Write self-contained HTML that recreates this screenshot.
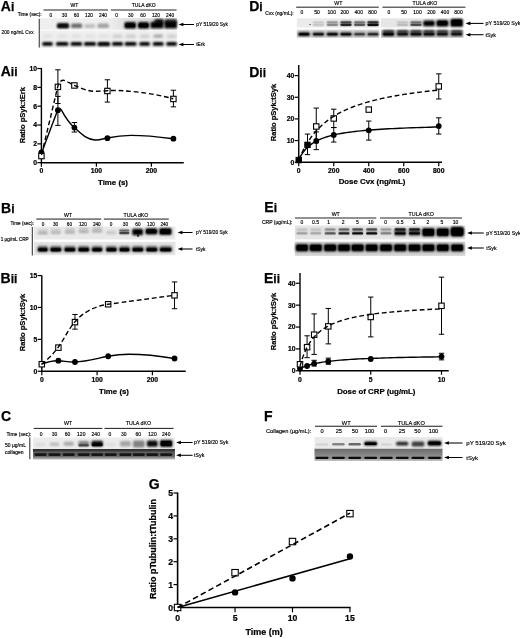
<!DOCTYPE html>
<html lang="en"><head><meta charset="utf-8"><title>Figure</title>
<style>html,body{margin:0;padding:0;background:#fff}svg{display:block}text{font-family:"Liberation Sans", Arial, sans-serif}</style></head><body>
<svg width="520" height="638" viewBox="0 0 520 638">
<defs><filter id="b1" x="-40%" y="-200%" width="180%" height="500%"><feGaussianBlur stdDeviation="1.0"/></filter><filter id="b2" x="-40%" y="-200%" width="180%" height="500%"><feGaussianBlur stdDeviation="1.5"/></filter><filter id="b0" x="-40%" y="-200%" width="180%" height="500%"><feGaussianBlur stdDeviation="0.65"/></filter><filter id="soft" x="-5%" y="-5%" width="110%" height="110%"><feGaussianBlur stdDeviation="0.35"/></filter><linearGradient id="gF" x1="0" y1="0" x2="0" y2="1"><stop offset="0" stop-color="#6a6a6a"/><stop offset="0.6" stop-color="#8c8c8c"/><stop offset="0.82" stop-color="#909090"/><stop offset="0.9" stop-color="#b8b8b8"/><stop offset="1" stop-color="#c4c4c4"/></linearGradient><linearGradient id="gC" x1="0" y1="0" x2="0" y2="1"><stop offset="0" stop-color="#2c2c2c"/><stop offset="0.18" stop-color="#3a3a3a"/><stop offset="0.3" stop-color="#5e5e5e"/><stop offset="0.7" stop-color="#666"/><stop offset="0.85" stop-color="#999"/><stop offset="1" stop-color="#b0b0b0"/></linearGradient><filter id="gsoft" x="0" y="0" width="520" height="638" filterUnits="userSpaceOnUse"><feGaussianBlur stdDeviation="0.32"/></filter><linearGradient id="gA" x1="0" y1="0" x2="1" y2="0"><stop offset="0" stop-color="#efefef"/><stop offset="0.25" stop-color="#e0e0e0"/><stop offset="1" stop-color="#d6d6d6"/></linearGradient></defs>
<rect width="520" height="638" fill="#fff"/>
<g filter="url(#gsoft)">
<g id="Ai">
<text x="0.8" y="11.2" font-size="14" font-weight="bold" fill="#000" stroke="#000" stroke-width="0.25">A<tspan font-size="12">i</tspan></text>
<text x="74.5" y="7.2" font-size="5" text-anchor="middle" stroke="#000" stroke-width="0.16" fill="#000">WT</text>
<line x1="43.5" y1="10" x2="108" y2="10" stroke="#111" stroke-width="0.95"/>
<text x="143.7" y="7.2" font-size="5" text-anchor="middle" stroke="#000" stroke-width="0.16" fill="#000">TULA dKO</text>
<line x1="110.8" y1="10" x2="176.5" y2="10" stroke="#111" stroke-width="0.95"/>
<text x="41.6" y="16.3" font-size="4.8" text-anchor="end" stroke="#000" stroke-width="0.16" fill="#000">Time (sec):</text>
<text x="50.9" y="16.8" font-size="4.8" text-anchor="middle" stroke="#000" stroke-width="0.16" fill="#000">0</text>
<text x="64.5" y="16.8" font-size="4.8" text-anchor="middle" stroke="#000" stroke-width="0.16" fill="#000">30</text>
<text x="76.4" y="16.8" font-size="4.8" text-anchor="middle" stroke="#000" stroke-width="0.16" fill="#000">60</text>
<text x="89.0" y="16.8" font-size="4.8" text-anchor="middle" stroke="#000" stroke-width="0.16" fill="#000">120</text>
<text x="103.0" y="16.8" font-size="4.8" text-anchor="middle" stroke="#000" stroke-width="0.16" fill="#000">240</text>
<text x="116.6" y="16.8" font-size="4.8" text-anchor="middle" stroke="#000" stroke-width="0.16" fill="#000">0</text>
<text x="130.7" y="16.8" font-size="4.8" text-anchor="middle" stroke="#000" stroke-width="0.16" fill="#000">30</text>
<text x="142.9" y="16.8" font-size="4.8" text-anchor="middle" stroke="#000" stroke-width="0.16" fill="#000">60</text>
<text x="155.9" y="16.8" font-size="4.8" text-anchor="middle" stroke="#000" stroke-width="0.16" fill="#000">120</text>
<text x="170.1" y="16.8" font-size="4.8" text-anchor="middle" stroke="#000" stroke-width="0.16" fill="#000">240</text>
<text x="1.5" y="33.5" font-size="4.8" text-anchor="start" stroke="#000" stroke-width="0.16" fill="#000">200 ng/mL Cvx</text>
<line x1="39.25" y1="18.75" x2="39.25" y2="47.5" stroke="#111" stroke-width="0.9"/>
<g filter="url(#soft)">
<rect x="40" y="18.2" width="137" height="11.5" fill="#efefef"/>
<rect x="108" y="18.2" width="69" height="11.5" fill="url(#gA)"/>
<rect x="40" y="30.6" width="137" height="17" fill="#efefef"/>
</g>
<rect x="57.00" y="23.10" width="12" height="5" rx="1.5" fill="#000" opacity="0.95" filter="url(#b1)"/>
<rect x="57.50" y="25.40" width="11" height="2.4" rx="1.2" fill="#000" opacity="0.8" filter="url(#b1)"/>
<rect x="71.10" y="23.55" width="11" height="4.5" rx="1.5" fill="#000" opacity="0.55" filter="url(#b1)"/>
<rect x="84.55" y="24.00" width="10.5" height="4" rx="1.5" fill="#000" opacity="0.2" filter="url(#b1)"/>
<rect x="97.45" y="23.55" width="11.5" height="4.5" rx="1.5" fill="#000" opacity="0.32" filter="url(#b1)"/>
<rect x="124.45" y="22.10" width="11.5" height="6.4" rx="1.5" fill="#000" opacity="1" filter="url(#b1)"/>
<rect x="125.20" y="23.85" width="10" height="3.5" rx="1.5" fill="#000" opacity="1" filter="url(#b0)"/>
<rect x="138.00" y="22.10" width="11" height="6.4" rx="1.5" fill="#000" opacity="1" filter="url(#b1)"/>
<rect x="138.50" y="23.85" width="10" height="3.5" rx="1.5" fill="#000" opacity="1" filter="url(#b0)"/>
<rect x="150.50" y="21.75" width="13" height="6.5" rx="1.5" fill="#000" opacity="1" filter="url(#b1)"/>
<rect x="154.50" y="19.00" width="9" height="5" rx="1.5" fill="#000" opacity="0.9" filter="url(#b1)"/>
<rect x="164.45" y="20.75" width="12.5" height="7.5" rx="1.5" fill="#000" opacity="1" filter="url(#b1)"/>
<rect x="164.70" y="19.00" width="12" height="4" rx="1.5" fill="#000" opacity="0.6" filter="url(#b1)"/>
<rect x="42.25" y="41.90" width="10.5" height="3.8" rx="1.5" fill="#000" opacity="1" filter="url(#b1)"/>
<rect x="42.75" y="34.80" width="9.5" height="3" rx="1.5" fill="#000" opacity="0.07" filter="url(#b2)"/>
<rect x="56.05" y="41.90" width="12.3" height="3.8" rx="1.5" fill="#000" opacity="1" filter="url(#b1)"/>
<rect x="56.55" y="34.80" width="11.3" height="3" rx="1.5" fill="#000" opacity="0.07" filter="url(#b2)"/>
<rect x="70.65" y="41.90" width="11.5" height="3.8" rx="1.5" fill="#000" opacity="1" filter="url(#b1)"/>
<rect x="71.15" y="34.80" width="10.5" height="3" rx="1.5" fill="#000" opacity="0.07" filter="url(#b2)"/>
<rect x="84.00" y="41.90" width="12" height="3.8" rx="1.5" fill="#000" opacity="1" filter="url(#b1)"/>
<rect x="84.50" y="34.80" width="11" height="3" rx="1.5" fill="#000" opacity="0.07" filter="url(#b2)"/>
<rect x="97.65" y="41.90" width="12.3" height="3.8" rx="1.5" fill="#000" opacity="1" filter="url(#b1)"/>
<rect x="98.15" y="34.80" width="11.3" height="3" rx="1.5" fill="#000" opacity="0.07" filter="url(#b2)"/>
<rect x="112.00" y="41.90" width="11" height="3.8" rx="1.5" fill="#000" opacity="1" filter="url(#b1)"/>
<rect x="112.50" y="34.80" width="10" height="3" rx="1.5" fill="#000" opacity="0.17" filter="url(#b2)"/>
<rect x="124.70" y="41.90" width="11.8" height="3.8" rx="1.5" fill="#000" opacity="1" filter="url(#b1)"/>
<rect x="125.20" y="34.80" width="10.8" height="3" rx="1.5" fill="#000" opacity="0.17" filter="url(#b2)"/>
<rect x="139.35" y="41.90" width="10.5" height="3.8" rx="1.5" fill="#000" opacity="1" filter="url(#b1)"/>
<rect x="139.85" y="34.80" width="9.5" height="3" rx="1.5" fill="#000" opacity="0.17" filter="url(#b2)"/>
<rect x="152.80" y="41.90" width="10.8" height="3.8" rx="1.5" fill="#000" opacity="1" filter="url(#b1)"/>
<rect x="153.30" y="34.80" width="9.8" height="3" rx="1.5" fill="#000" opacity="0.17" filter="url(#b2)"/>
<rect x="166.30" y="41.90" width="10.6" height="3.8" rx="1.5" fill="#000" opacity="1" filter="url(#b1)"/>
<rect x="166.80" y="34.80" width="9.6" height="3" rx="1.5" fill="#000" opacity="0.17" filter="url(#b2)"/>
<rect x="153.50" y="34.75" width="9" height="2.5" rx="1.25" fill="#000" opacity="0.22" filter="url(#b1)"/>
<rect x="97.80" y="43.10" width="12" height="3" rx="1.5" fill="#000" opacity="0.5" filter="url(#b1)"/>
<line x1="181" y1="24.5" x2="194" y2="24.5" stroke="#000" stroke-width="1.05"/>
<path d="M178.6 24.5 L183.4 22.7 L183.4 26.3 Z" fill="#000"/>
<text x="196.25" y="26.228" font-size="4.9" text-anchor="start" stroke="#000" stroke-width="0.16" fill="#000">pY 519/20 Syk</text>
<line x1="181" y1="44.5" x2="194" y2="44.5" stroke="#000" stroke-width="1.05"/>
<path d="M178.6 44.5 L183.4 42.7 L183.4 46.3 Z" fill="#000"/>
<text x="196.25" y="46.228" font-size="4.9" text-anchor="start" stroke="#000" stroke-width="0.16" fill="#000">tErk</text>
</g>
<g id="Di">
<text x="249.2" y="11.2" font-size="14" font-weight="bold" fill="#000" stroke="#000" stroke-width="0.25">D<tspan font-size="12">i</tspan></text>
<text x="338.3" y="5.0" font-size="5.2" text-anchor="middle" stroke="#000" stroke-width="0.16" fill="#000">WT</text>
<line x1="296.2" y1="7.2" x2="378.75" y2="7.2" stroke="#111" stroke-width="0.95"/>
<text x="425" y="5.0" font-size="5.2" text-anchor="middle" stroke="#000" stroke-width="0.16" fill="#000">TULA dKO</text>
<line x1="382.5" y1="7.2" x2="465.4" y2="7.2" stroke="#111" stroke-width="0.95"/>
<text x="293.75" y="14.9" font-size="5" text-anchor="end" stroke="#000" stroke-width="0.16" fill="#000">Cvx (ng/mL):</text>
<text x="302" y="14.4" font-size="5" text-anchor="middle" stroke="#000" stroke-width="0.16" fill="#000">0</text>
<text x="317" y="14.4" font-size="5" text-anchor="middle" stroke="#000" stroke-width="0.16" fill="#000">50</text>
<text x="331.75" y="14.4" font-size="5" text-anchor="middle" stroke="#000" stroke-width="0.16" fill="#000">100</text>
<text x="344.7" y="14.4" font-size="5" text-anchor="middle" stroke="#000" stroke-width="0.16" fill="#000">200</text>
<text x="358.75" y="14.4" font-size="5" text-anchor="middle" stroke="#000" stroke-width="0.16" fill="#000">400</text>
<text x="372.5" y="14.4" font-size="5" text-anchor="middle" stroke="#000" stroke-width="0.16" fill="#000">800</text>
<text x="389" y="14.4" font-size="5" text-anchor="middle" stroke="#000" stroke-width="0.16" fill="#000">0</text>
<text x="404" y="14.4" font-size="5" text-anchor="middle" stroke="#000" stroke-width="0.16" fill="#000">50</text>
<text x="417.5" y="14.4" font-size="5" text-anchor="middle" stroke="#000" stroke-width="0.16" fill="#000">100</text>
<text x="431.3" y="14.4" font-size="5" text-anchor="middle" stroke="#000" stroke-width="0.16" fill="#000">200</text>
<text x="445" y="14.4" font-size="5" text-anchor="middle" stroke="#000" stroke-width="0.16" fill="#000">400</text>
<text x="458.5" y="14.4" font-size="5" text-anchor="middle" stroke="#000" stroke-width="0.16" fill="#000">800</text>
<g filter="url(#soft)">
<rect x="296.8" y="18.3" width="82.4" height="9.2" fill="#ebebeb"/>
<rect x="381" y="18.3" width="82.4" height="9.2" fill="#e6e6e6"/>
<rect x="296.8" y="29.6" width="82.4" height="8.2" fill="#d6d6d6"/>
<rect x="381" y="29.6" width="82.4" height="8.2" fill="#c8c8c8"/>
</g>
<rect x="312.75" y="21.20" width="11.3" height="2.0" rx="1.0" fill="#000" opacity="0.08" filter="url(#b0)"/>
<rect x="312.75" y="23.70" width="11.3" height="2.2" rx="1.1" fill="#000" opacity="0.1" filter="url(#b0)"/>
<rect x="312.75" y="21.00" width="11.3" height="5" rx="1.5" fill="#000" opacity="0.06" filter="url(#b1)"/>
<rect x="326.75" y="21.20" width="11.3" height="2.0" rx="1.0" fill="#000" opacity="0.22" filter="url(#b0)"/>
<rect x="326.75" y="23.70" width="11.3" height="2.2" rx="1.1" fill="#000" opacity="0.3" filter="url(#b0)"/>
<rect x="326.75" y="21.00" width="11.3" height="5" rx="1.5" fill="#000" opacity="0.18" filter="url(#b1)"/>
<rect x="340.35" y="21.20" width="11.3" height="2.0" rx="1.0" fill="#000" opacity="0.5" filter="url(#b0)"/>
<rect x="340.35" y="23.70" width="11.3" height="2.2" rx="1.1" fill="#000" opacity="0.75" filter="url(#b0)"/>
<rect x="340.35" y="21.00" width="11.3" height="5" rx="1.5" fill="#000" opacity="0.44999999999999996" filter="url(#b1)"/>
<rect x="353.95" y="21.20" width="11.3" height="2.0" rx="1.0" fill="#000" opacity="0.32" filter="url(#b0)"/>
<rect x="353.95" y="23.70" width="11.3" height="2.2" rx="1.1" fill="#000" opacity="0.5" filter="url(#b0)"/>
<rect x="353.95" y="21.00" width="11.3" height="5" rx="1.5" fill="#000" opacity="0.3" filter="url(#b1)"/>
<rect x="367.35" y="21.20" width="11.3" height="2.0" rx="1.0" fill="#000" opacity="0.62" filter="url(#b0)"/>
<rect x="367.35" y="23.70" width="11.3" height="2.2" rx="1.1" fill="#000" opacity="0.9" filter="url(#b0)"/>
<rect x="367.35" y="21.00" width="11.3" height="5" rx="1.5" fill="#000" opacity="0.54" filter="url(#b1)"/>
<rect x="396.95" y="21.20" width="11.3" height="2.0" rx="1.0" fill="#000" opacity="0.08" filter="url(#b0)"/>
<rect x="396.95" y="23.70" width="11.3" height="2.2" rx="1.1" fill="#000" opacity="0.12" filter="url(#b0)"/>
<rect x="396.95" y="21.00" width="11.3" height="5" rx="1.5" fill="#000" opacity="0.072" filter="url(#b1)"/>
<rect x="410.35" y="21.20" width="11.3" height="2.0" rx="1.0" fill="#000" opacity="0.3" filter="url(#b0)"/>
<rect x="410.35" y="23.70" width="11.3" height="2.2" rx="1.1" fill="#000" opacity="0.55" filter="url(#b0)"/>
<rect x="410.35" y="21.00" width="11.3" height="5" rx="1.5" fill="#000" opacity="0.33" filter="url(#b1)"/>
<rect x="423.25" y="20.60" width="11.5" height="5.6" rx="1.5" fill="#000" opacity="1" filter="url(#b1)"/>
<rect x="309.40" y="24.00" width="1.2" height="1.2" rx="0.6" fill="#000" opacity="0.9" filter="url(#b0)"/>
<rect x="436.40" y="20.10" width="12" height="6.4" rx="1.5" fill="#000" opacity="1" filter="url(#b1)"/>
<rect x="437.40" y="21.30" width="10" height="4" rx="1.5" fill="#000" opacity="1" filter="url(#b0)"/>
<rect x="450.50" y="18.80" width="12.4" height="8" rx="1.5" fill="#000" opacity="1" filter="url(#b1)"/>
<rect x="451.40" y="19.80" width="10.6" height="6" rx="1.5" fill="#000" opacity="1" filter="url(#b0)"/>
<rect x="298.10" y="32.30" width="11.8" height="3.6" rx="1.5" fill="#000" opacity="1" filter="url(#b1)"/>
<rect x="298.75" y="33.20" width="10.5" height="2.0" rx="1.0" fill="#000" opacity="0.8" filter="url(#b0)"/>
<rect x="312.50" y="32.30" width="11.8" height="3.6" rx="1.5" fill="#000" opacity="0.8" filter="url(#b1)"/>
<rect x="313.15" y="33.20" width="10.5" height="2.0" rx="1.0" fill="#000" opacity="0.6400000000000001" filter="url(#b0)"/>
<rect x="326.50" y="32.30" width="11.8" height="3.6" rx="1.5" fill="#000" opacity="0.85" filter="url(#b1)"/>
<rect x="327.15" y="33.20" width="10.5" height="2.0" rx="1.0" fill="#000" opacity="0.68" filter="url(#b0)"/>
<rect x="340.10" y="32.30" width="11.8" height="3.6" rx="1.5" fill="#000" opacity="0.85" filter="url(#b1)"/>
<rect x="340.75" y="33.20" width="10.5" height="2.0" rx="1.0" fill="#000" opacity="0.68" filter="url(#b0)"/>
<rect x="353.70" y="32.30" width="11.8" height="3.6" rx="1.5" fill="#000" opacity="0.55" filter="url(#b1)"/>
<rect x="354.35" y="33.20" width="10.5" height="2.0" rx="1.0" fill="#000" opacity="0.44000000000000006" filter="url(#b0)"/>
<rect x="367.10" y="32.30" width="11.8" height="3.6" rx="1.5" fill="#000" opacity="0.65" filter="url(#b1)"/>
<rect x="367.75" y="33.20" width="10.5" height="2.0" rx="1.0" fill="#000" opacity="0.52" filter="url(#b0)"/>
<rect x="382.50" y="32.30" width="11.8" height="3.6" rx="1.5" fill="#000" opacity="1" filter="url(#b1)"/>
<rect x="383.15" y="33.20" width="10.5" height="2.0" rx="1.0" fill="#000" opacity="0.8" filter="url(#b0)"/>
<rect x="382.65" y="29.90" width="11.5" height="3" rx="1.5" fill="#000" opacity="0.7" filter="url(#b1)"/>
<rect x="396.70" y="32.30" width="11.8" height="3.6" rx="1.5" fill="#000" opacity="0.8" filter="url(#b1)"/>
<rect x="397.35" y="33.20" width="10.5" height="2.0" rx="1.0" fill="#000" opacity="0.6400000000000001" filter="url(#b0)"/>
<rect x="396.85" y="29.90" width="11.5" height="3" rx="1.5" fill="#000" opacity="0.7" filter="url(#b1)"/>
<rect x="410.10" y="32.30" width="11.8" height="3.6" rx="1.5" fill="#000" opacity="0.85" filter="url(#b1)"/>
<rect x="410.75" y="33.20" width="10.5" height="2.0" rx="1.0" fill="#000" opacity="0.68" filter="url(#b0)"/>
<rect x="410.25" y="29.90" width="11.5" height="3" rx="1.5" fill="#000" opacity="0.7" filter="url(#b1)"/>
<rect x="423.10" y="32.30" width="11.8" height="3.6" rx="1.5" fill="#000" opacity="0.85" filter="url(#b1)"/>
<rect x="423.75" y="33.20" width="10.5" height="2.0" rx="1.0" fill="#000" opacity="0.68" filter="url(#b0)"/>
<rect x="423.25" y="29.90" width="11.5" height="3" rx="1.5" fill="#000" opacity="0.7" filter="url(#b1)"/>
<rect x="436.50" y="32.30" width="11.8" height="3.6" rx="1.5" fill="#000" opacity="0.8" filter="url(#b1)"/>
<rect x="437.15" y="33.20" width="10.5" height="2.0" rx="1.0" fill="#000" opacity="0.6400000000000001" filter="url(#b0)"/>
<rect x="436.65" y="29.90" width="11.5" height="3" rx="1.5" fill="#000" opacity="0.7" filter="url(#b1)"/>
<rect x="450.70" y="32.30" width="11.8" height="3.6" rx="1.5" fill="#000" opacity="0.8" filter="url(#b1)"/>
<rect x="451.35" y="33.20" width="10.5" height="2.0" rx="1.0" fill="#000" opacity="0.6400000000000001" filter="url(#b0)"/>
<rect x="450.85" y="29.90" width="11.5" height="3" rx="1.5" fill="#000" opacity="0.7" filter="url(#b1)"/>
<line x1="468" y1="23.4" x2="483.5" y2="23.4" stroke="#000" stroke-width="1.05"/>
<path d="M465.6 23.4 L470.4 21.599999999999998 L470.4 25.2 Z" fill="#000"/>
<text x="485.4" y="25.2" font-size="5.4" text-anchor="start" stroke="#000" stroke-width="0.16" fill="#000">pY 519/20 Syk</text>
<line x1="468" y1="34.7" x2="483.5" y2="34.7" stroke="#000" stroke-width="1.05"/>
<path d="M465.6 34.7 L470.4 32.900000000000006 L470.4 36.5 Z" fill="#000"/>
<text x="485.4" y="36.5" font-size="5.4" text-anchor="start" stroke="#000" stroke-width="0.16" fill="#000">tSyk</text>
</g>
<g id="Bi">
<text x="1" y="212.5" font-size="14" font-weight="bold" fill="#000" stroke="#000" stroke-width="0.25">B<tspan font-size="12">i</tspan></text>
<text x="68" y="217" font-size="5.2" text-anchor="middle" stroke="#000" stroke-width="0.16" fill="#000">WT</text>
<line x1="36.25" y1="219.1" x2="101.25" y2="219.1" stroke="#111" stroke-width="0.95"/>
<text x="135.9" y="217" font-size="5.2" text-anchor="middle" stroke="#000" stroke-width="0.16" fill="#000">TULA dKO</text>
<line x1="103.8" y1="219.1" x2="168.8" y2="219.1" stroke="#111" stroke-width="0.95"/>
<text x="33.75" y="225.1" font-size="4.7" text-anchor="end" stroke="#000" stroke-width="0.16" fill="#000">Time (sec):</text>
<text x="43.1" y="225.6" font-size="4.7" text-anchor="middle" stroke="#000" stroke-width="0.16" fill="#000">0</text>
<text x="55.6" y="225.6" font-size="4.7" text-anchor="middle" stroke="#000" stroke-width="0.16" fill="#000">30</text>
<text x="69.4" y="225.6" font-size="4.7" text-anchor="middle" stroke="#000" stroke-width="0.16" fill="#000">60</text>
<text x="82.9" y="225.6" font-size="4.7" text-anchor="middle" stroke="#000" stroke-width="0.16" fill="#000">120</text>
<text x="96.8" y="225.6" font-size="4.7" text-anchor="middle" stroke="#000" stroke-width="0.16" fill="#000">240</text>
<text x="111.1" y="225.6" font-size="4.7" text-anchor="middle" stroke="#000" stroke-width="0.16" fill="#000">0</text>
<text x="125.4" y="225.6" font-size="4.7" text-anchor="middle" stroke="#000" stroke-width="0.16" fill="#000">30</text>
<text x="137.9" y="225.6" font-size="4.7" text-anchor="middle" stroke="#000" stroke-width="0.16" fill="#000">60</text>
<text x="151" y="225.6" font-size="4.7" text-anchor="middle" stroke="#000" stroke-width="0.16" fill="#000">120</text>
<text x="164.3" y="225.6" font-size="4.7" text-anchor="middle" stroke="#000" stroke-width="0.16" fill="#000">240</text>
<text x="0.7" y="241.3" font-size="4.7" text-anchor="start" stroke="#000" stroke-width="0.16" fill="#000">1 µg/mL CRP</text>
<line x1="32.3" y1="227" x2="32.3" y2="255.4" stroke="#111" stroke-width="0.9"/>
<g filter="url(#soft)">
<rect x="34" y="226.5" width="141.4" height="13" fill="#e9e9e9"/>
<rect x="34" y="241.8" width="141.4" height="13.4" fill="#e4e4e4"/>
</g>
<rect x="37.65" y="232.10" width="10.3" height="2.2" rx="1.1" fill="#000" opacity="0.26" filter="url(#b1)"/>
<rect x="37.65" y="229.10" width="10.3" height="2.2" rx="1.1" fill="#000" opacity="0.09" filter="url(#b1)"/>
<rect x="37.65" y="229.20" width="10.3" height="5" rx="1.5" fill="#000" opacity="0.04" filter="url(#b1)"/>
<rect x="50.65" y="231.65" width="10.3" height="2.2" rx="1.1" fill="#000" opacity="0.26" filter="url(#b1)"/>
<rect x="50.65" y="228.65" width="10.3" height="2.2" rx="1.1" fill="#000" opacity="0.11" filter="url(#b1)"/>
<rect x="50.65" y="228.75" width="10.3" height="5" rx="1.5" fill="#000" opacity="0.04" filter="url(#b1)"/>
<rect x="64.75" y="231.20" width="10.3" height="2.2" rx="1.1" fill="#000" opacity="0.26" filter="url(#b1)"/>
<rect x="64.75" y="228.20" width="10.3" height="2.2" rx="1.1" fill="#000" opacity="0.13" filter="url(#b1)"/>
<rect x="64.75" y="228.30" width="10.3" height="5" rx="1.5" fill="#000" opacity="0.04" filter="url(#b1)"/>
<rect x="78.55" y="230.75" width="10.3" height="2.2" rx="1.1" fill="#000" opacity="0.26" filter="url(#b1)"/>
<rect x="78.55" y="227.75" width="10.3" height="2.2" rx="1.1" fill="#000" opacity="0.15" filter="url(#b1)"/>
<rect x="78.55" y="227.85" width="10.3" height="5" rx="1.5" fill="#000" opacity="0.04" filter="url(#b1)"/>
<rect x="91.95" y="230.30" width="10.3" height="2.2" rx="1.1" fill="#000" opacity="0.26" filter="url(#b1)"/>
<rect x="91.95" y="227.30" width="10.3" height="2.2" rx="1.1" fill="#000" opacity="0.16999999999999998" filter="url(#b1)"/>
<rect x="91.95" y="227.40" width="10.3" height="5" rx="1.5" fill="#000" opacity="0.04" filter="url(#b1)"/>
<rect x="106.00" y="230.75" width="10" height="3.5" rx="1.5" fill="#000" opacity="0.14" filter="url(#b1)"/>
<rect x="119.20" y="229.40" width="10.2" height="2.0" rx="1.0" fill="#000" opacity="0.4" filter="url(#b0)"/>
<rect x="119.20" y="232.10" width="10.2" height="2.2" rx="1.1" fill="#000" opacity="0.6" filter="url(#b0)"/>
<rect x="119.20" y="229.30" width="10.2" height="5" rx="1.5" fill="#000" opacity="0.3" filter="url(#b1)"/>
<rect x="132.20" y="228.80" width="10.8" height="6.4" rx="1.5" fill="#000" opacity="1" filter="url(#b1)"/>
<rect x="137.00" y="234.00" width="2" height="3" rx="1.5" fill="#000" opacity="0.8" filter="url(#b0)"/>
<rect x="145.40" y="228.30" width="12" height="6.2" rx="1.5" fill="#000" opacity="1" filter="url(#b1)"/>
<rect x="146.15" y="229.60" width="10.5" height="3.6" rx="1.5" fill="#000" opacity="1" filter="url(#b0)"/>
<rect x="159.15" y="227.90" width="12.5" height="7.2" rx="1.5" fill="#000" opacity="1" filter="url(#b1)"/>
<rect x="160.15" y="229.25" width="10.5" height="4.5" rx="1.5" fill="#000" opacity="1" filter="url(#b0)"/>
<rect x="37.55" y="247.20" width="10.5" height="4.6" rx="1.5" fill="#000" opacity="1" filter="url(#b1)"/>
<rect x="38.30" y="248.20" width="9.0" height="3.0" rx="1.5" fill="#000" opacity="1" filter="url(#b0)"/>
<rect x="37.55" y="245.30" width="10.5" height="3" rx="1.5" fill="#000" opacity="0.25" filter="url(#b1)"/>
<rect x="50.05" y="247.20" width="11.5" height="4.6" rx="1.5" fill="#000" opacity="1" filter="url(#b1)"/>
<rect x="50.80" y="248.20" width="10.0" height="3.0" rx="1.5" fill="#000" opacity="1" filter="url(#b0)"/>
<rect x="50.05" y="245.30" width="11.5" height="3" rx="1.5" fill="#000" opacity="0.25" filter="url(#b1)"/>
<rect x="64.15" y="247.20" width="11.5" height="4.6" rx="1.5" fill="#000" opacity="1" filter="url(#b1)"/>
<rect x="64.90" y="248.20" width="10.0" height="3.0" rx="1.5" fill="#000" opacity="1" filter="url(#b0)"/>
<rect x="64.15" y="245.30" width="11.5" height="3" rx="1.5" fill="#000" opacity="0.25" filter="url(#b1)"/>
<rect x="77.95" y="247.20" width="11.5" height="4.6" rx="1.5" fill="#000" opacity="1" filter="url(#b1)"/>
<rect x="78.70" y="248.20" width="10.0" height="3.0" rx="1.5" fill="#000" opacity="1" filter="url(#b0)"/>
<rect x="77.95" y="245.30" width="11.5" height="3" rx="1.5" fill="#000" opacity="0.25" filter="url(#b1)"/>
<rect x="91.70" y="247.20" width="10.8" height="4.6" rx="1.5" fill="#000" opacity="1" filter="url(#b1)"/>
<rect x="92.45" y="248.20" width="9.3" height="3.0" rx="1.5" fill="#000" opacity="1" filter="url(#b0)"/>
<rect x="91.70" y="245.30" width="10.8" height="3" rx="1.5" fill="#000" opacity="0.25" filter="url(#b1)"/>
<rect x="105.90" y="247.20" width="11" height="4.6" rx="1.5" fill="#000" opacity="1" filter="url(#b1)"/>
<rect x="106.65" y="248.20" width="9.5" height="3.0" rx="1.5" fill="#000" opacity="1" filter="url(#b0)"/>
<rect x="105.90" y="245.30" width="11" height="3" rx="1.5" fill="#000" opacity="0.25" filter="url(#b1)"/>
<rect x="119.10" y="247.20" width="10.8" height="4.6" rx="1.5" fill="#000" opacity="1" filter="url(#b1)"/>
<rect x="119.85" y="248.20" width="9.3" height="3.0" rx="1.5" fill="#000" opacity="1" filter="url(#b0)"/>
<rect x="119.10" y="245.30" width="10.8" height="3" rx="1.5" fill="#000" opacity="0.25" filter="url(#b1)"/>
<rect x="132.05" y="247.20" width="11.5" height="4.6" rx="1.5" fill="#000" opacity="1" filter="url(#b1)"/>
<rect x="132.80" y="248.20" width="10.0" height="3.0" rx="1.5" fill="#000" opacity="1" filter="url(#b0)"/>
<rect x="132.05" y="245.30" width="11.5" height="3" rx="1.5" fill="#000" opacity="0.25" filter="url(#b1)"/>
<rect x="145.85" y="247.20" width="11.7" height="4.6" rx="1.5" fill="#000" opacity="1" filter="url(#b1)"/>
<rect x="146.60" y="248.20" width="10.2" height="3.0" rx="1.5" fill="#000" opacity="1" filter="url(#b0)"/>
<rect x="145.85" y="245.30" width="11.7" height="3" rx="1.5" fill="#000" opacity="0.25" filter="url(#b1)"/>
<rect x="159.55" y="247.20" width="12.3" height="4.6" rx="1.5" fill="#000" opacity="1" filter="url(#b1)"/>
<rect x="160.30" y="248.20" width="10.8" height="3.0" rx="1.5" fill="#000" opacity="1" filter="url(#b0)"/>
<rect x="159.55" y="245.30" width="12.3" height="3" rx="1.5" fill="#000" opacity="0.25" filter="url(#b1)"/>
<line x1="180" y1="232.5" x2="192.5" y2="232.5" stroke="#000" stroke-width="1.05"/>
<path d="M177.6 232.5 L182.4 230.7 L182.4 234.3 Z" fill="#000"/>
<text x="196" y="234.192" font-size="4.9" text-anchor="start" stroke="#000" stroke-width="0.16" fill="#000">pY 519/20 Syk</text>
<line x1="180" y1="249.0" x2="192.5" y2="249.0" stroke="#000" stroke-width="1.05"/>
<path d="M177.6 249.0 L182.4 247.2 L182.4 250.8 Z" fill="#000"/>
<text x="196" y="250.692" font-size="4.9" text-anchor="start" stroke="#000" stroke-width="0.16" fill="#000">tSyk</text>
</g>
<g id="Ei">
<text x="264.3" y="212.1" font-size="14" font-weight="bold" fill="#000" stroke="#000" stroke-width="0.25">E<tspan font-size="12">i</tspan></text>
<text x="335.75" y="215.6" font-size="5.3" text-anchor="middle" stroke="#000" stroke-width="0.16" fill="#000">WT</text>
<line x1="295" y1="218" x2="376.25" y2="218" stroke="#111" stroke-width="0.95"/>
<text x="421.25" y="215.6" font-size="5.3" text-anchor="middle" stroke="#000" stroke-width="0.16" fill="#000">TULA dKO</text>
<line x1="380" y1="218" x2="462" y2="218" stroke="#111" stroke-width="0.95"/>
<text x="292.5" y="223.9" font-size="5" text-anchor="end" stroke="#000" stroke-width="0.16" fill="#000">CRP (µg/mL):</text>
<text x="302" y="223.9" font-size="5" text-anchor="middle" stroke="#000" stroke-width="0.16" fill="#000">0</text>
<text x="315.5" y="223.9" font-size="5" text-anchor="middle" stroke="#000" stroke-width="0.16" fill="#000">0.5</text>
<text x="328.75" y="223.9" font-size="5" text-anchor="middle" stroke="#000" stroke-width="0.16" fill="#000">1</text>
<text x="343.25" y="223.9" font-size="5" text-anchor="middle" stroke="#000" stroke-width="0.16" fill="#000">2</text>
<text x="357.5" y="223.9" font-size="5" text-anchor="middle" stroke="#000" stroke-width="0.16" fill="#000">5</text>
<text x="370.75" y="223.9" font-size="5" text-anchor="middle" stroke="#000" stroke-width="0.16" fill="#000">10</text>
<text x="385.75" y="223.9" font-size="5" text-anchor="middle" stroke="#000" stroke-width="0.16" fill="#000">0</text>
<text x="400" y="223.9" font-size="5" text-anchor="middle" stroke="#000" stroke-width="0.16" fill="#000">0.5</text>
<text x="414.25" y="223.9" font-size="5" text-anchor="middle" stroke="#000" stroke-width="0.16" fill="#000">1</text>
<text x="428" y="223.9" font-size="5" text-anchor="middle" stroke="#000" stroke-width="0.16" fill="#000">2</text>
<text x="442" y="223.9" font-size="5" text-anchor="middle" stroke="#000" stroke-width="0.16" fill="#000">5</text>
<text x="455.5" y="223.9" font-size="5" text-anchor="middle" stroke="#000" stroke-width="0.16" fill="#000">10</text>
<g filter="url(#soft)">
<rect x="294.8" y="225.5" width="170.5" height="13.9" fill="#e4e4e4"/>
<rect x="294.8" y="241.6" width="170.5" height="14.2" fill="#d2d2d2"/>
</g>
<rect x="296.50" y="228.25" width="11" height="2.3" rx="1.15" fill="#000" opacity="0.07" filter="url(#b0)"/>
<rect x="296.50" y="232.20" width="11" height="2.4" rx="1.2" fill="#000" opacity="0.24" filter="url(#b0)"/>
<rect x="310.30" y="228.25" width="11" height="2.3" rx="1.15" fill="#000" opacity="0.07" filter="url(#b0)"/>
<rect x="310.30" y="232.20" width="11" height="2.4" rx="1.2" fill="#000" opacity="0.2" filter="url(#b0)"/>
<rect x="324.70" y="228.25" width="11" height="2.3" rx="1.15" fill="#000" opacity="0.28" filter="url(#b0)"/>
<rect x="324.70" y="232.20" width="11" height="2.4" rx="1.2" fill="#000" opacity="0.55" filter="url(#b0)"/>
<rect x="338.50" y="228.25" width="11" height="2.3" rx="1.15" fill="#000" opacity="0.45" filter="url(#b0)"/>
<rect x="338.50" y="232.20" width="11" height="2.4" rx="1.2" fill="#000" opacity="0.8" filter="url(#b0)"/>
<rect x="352.10" y="228.25" width="11" height="2.3" rx="1.15" fill="#000" opacity="0.55" filter="url(#b0)"/>
<rect x="352.10" y="232.20" width="11" height="2.4" rx="1.2" fill="#000" opacity="0.95" filter="url(#b0)"/>
<rect x="366.20" y="228.25" width="11" height="2.3" rx="1.15" fill="#000" opacity="0.55" filter="url(#b0)"/>
<rect x="366.20" y="232.20" width="11" height="2.4" rx="1.2" fill="#000" opacity="0.95" filter="url(#b0)"/>
<rect x="380.50" y="228.25" width="11" height="2.3" rx="1.15" fill="#000" opacity="0.22" filter="url(#b0)"/>
<rect x="380.50" y="232.20" width="11" height="2.4" rx="1.2" fill="#000" opacity="0.35" filter="url(#b0)"/>
<rect x="394.70" y="228.25" width="11" height="2.3" rx="1.15" fill="#000" opacity="0.7" filter="url(#b0)"/>
<rect x="394.70" y="232.20" width="11" height="2.4" rx="1.2" fill="#000" opacity="0.9" filter="url(#b0)"/>
<rect x="409.00" y="228.25" width="11" height="2.3" rx="1.15" fill="#000" opacity="0.7" filter="url(#b0)"/>
<rect x="409.00" y="232.20" width="11" height="2.4" rx="1.2" fill="#000" opacity="0.9" filter="url(#b0)"/>
<rect x="394.30" y="228.30" width="11.8" height="7.4" rx="1.5" fill="#000" opacity="0.7" filter="url(#b1)"/>
<rect x="408.60" y="228.30" width="11.8" height="7.4" rx="1.5" fill="#000" opacity="0.7" filter="url(#b1)"/>
<rect x="296.50" y="228.50" width="11" height="6" rx="1.5" fill="#000" opacity="0.08" filter="url(#b1)"/>
<rect x="310.30" y="228.50" width="11" height="6" rx="1.5" fill="#000" opacity="0.08" filter="url(#b1)"/>
<rect x="324.70" y="228.50" width="11" height="6" rx="1.5" fill="#000" opacity="0.15" filter="url(#b1)"/>
<rect x="338.50" y="228.50" width="11" height="6" rx="1.5" fill="#000" opacity="0.25" filter="url(#b1)"/>
<rect x="352.10" y="228.50" width="11" height="6" rx="1.5" fill="#000" opacity="0.3" filter="url(#b1)"/>
<rect x="366.20" y="228.50" width="11" height="6" rx="1.5" fill="#000" opacity="0.3" filter="url(#b1)"/>
<rect x="380.50" y="228.50" width="11" height="6" rx="1.5" fill="#000" opacity="0.15" filter="url(#b1)"/>
<rect x="422.10" y="228.00" width="12.6" height="8.6" rx="1.5" fill="#000" opacity="1" filter="url(#b1)"/>
<rect x="422.90" y="229.05" width="11" height="6.5" rx="1.5" fill="#000" opacity="1" filter="url(#b0)"/>
<rect x="436.50" y="228.00" width="12.6" height="8.6" rx="1.5" fill="#000" opacity="1" filter="url(#b1)"/>
<rect x="437.30" y="229.05" width="11" height="6.5" rx="1.5" fill="#000" opacity="1" filter="url(#b0)"/>
<rect x="450.90" y="228.00" width="12.6" height="8.6" rx="1.5" fill="#000" opacity="1" filter="url(#b1)"/>
<rect x="451.70" y="229.05" width="11" height="6.5" rx="1.5" fill="#000" opacity="1" filter="url(#b0)"/>
<rect x="450.90" y="226.70" width="12.6" height="8.6" rx="1.5" fill="#000" opacity="1" filter="url(#b1)"/>
<rect x="295.70" y="244.10" width="12.6" height="7.4" rx="1.5" fill="#000" opacity="1" filter="url(#b1)"/>
<rect x="296.50" y="245.10" width="11" height="5.4" rx="1.5" fill="#000" opacity="1" filter="url(#b0)"/>
<rect x="309.50" y="244.10" width="12.6" height="7.4" rx="1.5" fill="#000" opacity="1" filter="url(#b1)"/>
<rect x="310.30" y="245.10" width="11" height="5.4" rx="1.5" fill="#000" opacity="1" filter="url(#b0)"/>
<rect x="323.90" y="244.10" width="12.6" height="7.4" rx="1.5" fill="#000" opacity="1" filter="url(#b1)"/>
<rect x="324.70" y="245.10" width="11" height="5.4" rx="1.5" fill="#000" opacity="1" filter="url(#b0)"/>
<rect x="337.70" y="244.10" width="12.6" height="7.4" rx="1.5" fill="#000" opacity="1" filter="url(#b1)"/>
<rect x="338.50" y="245.10" width="11" height="5.4" rx="1.5" fill="#000" opacity="1" filter="url(#b0)"/>
<rect x="351.30" y="244.10" width="12.6" height="7.4" rx="1.5" fill="#000" opacity="1" filter="url(#b1)"/>
<rect x="352.10" y="245.10" width="11" height="5.4" rx="1.5" fill="#000" opacity="1" filter="url(#b0)"/>
<rect x="365.40" y="244.10" width="12.6" height="7.4" rx="1.5" fill="#000" opacity="1" filter="url(#b1)"/>
<rect x="366.20" y="245.10" width="11" height="5.4" rx="1.5" fill="#000" opacity="1" filter="url(#b0)"/>
<rect x="379.70" y="244.10" width="12.6" height="7.4" rx="1.5" fill="#000" opacity="1" filter="url(#b1)"/>
<rect x="380.50" y="245.10" width="11" height="5.4" rx="1.5" fill="#000" opacity="1" filter="url(#b0)"/>
<rect x="393.90" y="244.10" width="12.6" height="7.4" rx="1.5" fill="#000" opacity="1" filter="url(#b1)"/>
<rect x="394.70" y="245.10" width="11" height="5.4" rx="1.5" fill="#000" opacity="1" filter="url(#b0)"/>
<rect x="408.20" y="244.10" width="12.6" height="7.4" rx="1.5" fill="#000" opacity="1" filter="url(#b1)"/>
<rect x="409.00" y="245.10" width="11" height="5.4" rx="1.5" fill="#000" opacity="1" filter="url(#b0)"/>
<rect x="422.10" y="244.10" width="12.6" height="7.4" rx="1.5" fill="#000" opacity="1" filter="url(#b1)"/>
<rect x="422.90" y="245.10" width="11" height="5.4" rx="1.5" fill="#000" opacity="1" filter="url(#b0)"/>
<rect x="436.50" y="244.10" width="12.6" height="7.4" rx="1.5" fill="#000" opacity="1" filter="url(#b1)"/>
<rect x="437.30" y="245.10" width="11" height="5.4" rx="1.5" fill="#000" opacity="1" filter="url(#b0)"/>
<rect x="450.90" y="244.10" width="12.6" height="7.4" rx="1.5" fill="#000" opacity="1" filter="url(#b1)"/>
<rect x="451.70" y="245.10" width="11" height="5.4" rx="1.5" fill="#000" opacity="1" filter="url(#b0)"/>
<line x1="469.5" y1="233" x2="483.75" y2="233" stroke="#000" stroke-width="1.05"/>
<path d="M467.1 233 L471.9 231.2 L471.9 234.8 Z" fill="#000"/>
<text x="486.25" y="234.8" font-size="5.3" text-anchor="start" stroke="#000" stroke-width="0.16" fill="#000">pY 519/20 Syk</text>
<line x1="469.5" y1="248" x2="483.75" y2="248" stroke="#000" stroke-width="1.05"/>
<path d="M467.1 248 L471.9 246.2 L471.9 249.8 Z" fill="#000"/>
<text x="486.25" y="249.8" font-size="5.3" text-anchor="start" stroke="#000" stroke-width="0.16" fill="#000">tSyk</text>
</g>
<g id="C">
<text x="1" y="421.25" font-size="14" font-weight="bold" fill="#000" stroke="#000" stroke-width="0.25">C</text>
<text x="68" y="425.3" font-size="5.3" text-anchor="middle" stroke="#000" stroke-width="0.16" fill="#000">WT</text>
<line x1="33.75" y1="428.4" x2="102.3" y2="428.4" stroke="#111" stroke-width="0.95"/>
<text x="138.5" y="425.3" font-size="5.3" text-anchor="middle" stroke="#000" stroke-width="0.16" fill="#000">TULA dKO</text>
<line x1="104.5" y1="428.4" x2="173.6" y2="428.4" stroke="#111" stroke-width="0.95"/>
<text x="31.25" y="435.5" font-size="5" text-anchor="end" stroke="#000" stroke-width="0.16" fill="#000">Time (sec):</text>
<text x="41.25" y="435.5" font-size="5" text-anchor="middle" stroke="#000" stroke-width="0.16" fill="#000">0</text>
<text x="54.5" y="435.5" font-size="5" text-anchor="middle" stroke="#000" stroke-width="0.16" fill="#000">30</text>
<text x="67.5" y="435.5" font-size="5" text-anchor="middle" stroke="#000" stroke-width="0.16" fill="#000">60</text>
<text x="81.25" y="435.5" font-size="5" text-anchor="middle" stroke="#000" stroke-width="0.16" fill="#000">120</text>
<text x="95.75" y="435.5" font-size="5" text-anchor="middle" stroke="#000" stroke-width="0.16" fill="#000">240</text>
<text x="110" y="435.5" font-size="5" text-anchor="middle" stroke="#000" stroke-width="0.16" fill="#000">0</text>
<text x="123.75" y="435.5" font-size="5" text-anchor="middle" stroke="#000" stroke-width="0.16" fill="#000">30</text>
<text x="138.25" y="435.5" font-size="5" text-anchor="middle" stroke="#000" stroke-width="0.16" fill="#000">60</text>
<text x="152.5" y="435.5" font-size="5" text-anchor="middle" stroke="#000" stroke-width="0.16" fill="#000">120</text>
<text x="166.25" y="435.5" font-size="5" text-anchor="middle" stroke="#000" stroke-width="0.16" fill="#000">240</text>
<text x="5" y="446.7" font-size="5" text-anchor="start" stroke="#000" stroke-width="0.16" fill="#000">50 µg/mL</text>
<text x="5" y="454.3" font-size="5" text-anchor="start" stroke="#000" stroke-width="0.16" fill="#000">collagen</text>
<line x1="29.8" y1="437.5" x2="29.8" y2="459.2" stroke="#111" stroke-width="0.9"/>
<g filter="url(#soft)">
<rect x="33" y="437.5" width="142" height="11.5" fill="#ececec"/>
<rect x="33" y="449" width="142" height="10.4" fill="url(#gC)"/>
</g>
<rect x="35.35" y="443.00" width="10.5" height="3" rx="1.5" fill="#000" opacity="0.07" filter="url(#b1)"/>
<rect x="49.75" y="442.55" width="9.5" height="3.5" rx="1.5" fill="#000" opacity="0.2" filter="url(#b1)"/>
<rect x="63.70" y="441.80" width="10" height="4" rx="1.5" fill="#000" opacity="0.28" filter="url(#b1)"/>
<rect x="78.30" y="441.05" width="10.8" height="5.5" rx="1.5" fill="#000" opacity="0.45" filter="url(#b1)"/>
<rect x="78.45" y="444.30" width="10.5" height="2.2" rx="1.1" fill="#000" opacity="0.55" filter="url(#b0)"/>
<rect x="91.45" y="440.80" width="11.5" height="5.8" rx="1.5" fill="#000" opacity="0.95" filter="url(#b1)"/>
<rect x="91.70" y="443.30" width="11" height="3" rx="1.5" fill="#000" opacity="0.9" filter="url(#b0)"/>
<rect x="105.95" y="443.00" width="9.5" height="3" rx="1.5" fill="#000" opacity="0.06" filter="url(#b1)"/>
<rect x="120.00" y="441.00" width="10.8" height="5.6" rx="1.5" fill="#000" opacity="0.3" filter="url(#b1)"/>
<rect x="133.00" y="440.50" width="11.6" height="7" rx="1.5" fill="#000" opacity="0.45" filter="url(#b1)"/>
<rect x="146.90" y="440.40" width="10.8" height="6.4" rx="1.5" fill="#000" opacity="0.95" filter="url(#b1)"/>
<rect x="160.05" y="439.90" width="12.3" height="7.2" rx="1.5" fill="#000" opacity="1" filter="url(#b1)"/>
<rect x="160.70" y="441.00" width="11" height="5" rx="1.5" fill="#000" opacity="1" filter="url(#b0)"/>
<rect x="34.50" y="453.30" width="12.2" height="2.6" rx="1.3" fill="#000" opacity="0.8" filter="url(#b0)"/>
<rect x="48.40" y="453.30" width="12.2" height="2.6" rx="1.3" fill="#000" opacity="0.8" filter="url(#b0)"/>
<rect x="62.60" y="453.30" width="12.2" height="2.6" rx="1.3" fill="#000" opacity="0.8" filter="url(#b0)"/>
<rect x="77.60" y="453.30" width="12.2" height="2.6" rx="1.3" fill="#000" opacity="0.8" filter="url(#b0)"/>
<rect x="91.10" y="453.30" width="12.2" height="2.6" rx="1.3" fill="#000" opacity="0.8" filter="url(#b0)"/>
<rect x="104.60" y="453.30" width="12.2" height="2.6" rx="1.3" fill="#000" opacity="0.8" filter="url(#b0)"/>
<rect x="119.30" y="453.30" width="12.2" height="2.6" rx="1.3" fill="#000" opacity="0.8" filter="url(#b0)"/>
<rect x="132.70" y="453.30" width="12.2" height="2.6" rx="1.3" fill="#000" opacity="0.8" filter="url(#b0)"/>
<rect x="146.20" y="453.30" width="12.2" height="2.6" rx="1.3" fill="#000" opacity="0.8" filter="url(#b0)"/>
<rect x="160.10" y="453.30" width="12.2" height="2.6" rx="1.3" fill="#000" opacity="0.8" filter="url(#b0)"/>
<line x1="178.5" y1="442.5" x2="192.6" y2="442.5" stroke="#000" stroke-width="1.05"/>
<path d="M176.1 442.5 L180.9 440.7 L180.9 444.3 Z" fill="#000"/>
<text x="194" y="444.3" font-size="5.3" text-anchor="start" stroke="#000" stroke-width="0.16" fill="#000">pY 519/20 Syk</text>
<line x1="178.5" y1="455.3" x2="192.6" y2="455.3" stroke="#000" stroke-width="1.05"/>
<path d="M176.1 455.3 L180.9 453.5 L180.9 457.1 Z" fill="#000"/>
<text x="194" y="457.1" font-size="5.3" text-anchor="start" stroke="#000" stroke-width="0.16" fill="#000">tSyk</text>
</g>
<g id="F">
<text x="264" y="421.25" font-size="14" font-weight="bold" fill="#000" stroke="#000" stroke-width="0.25">F</text>
<text x="346.25" y="425" font-size="5.7" text-anchor="middle" stroke="#000" stroke-width="0.16" fill="#000">WT</text>
<line x1="315" y1="426.25" x2="377" y2="426.25" stroke="#111" stroke-width="0.95"/>
<text x="411.25" y="425" font-size="5.7" text-anchor="middle" stroke="#000" stroke-width="0.16" fill="#000">TULA dKO</text>
<line x1="381" y1="426.25" x2="442.5" y2="426.25" stroke="#111" stroke-width="0.95"/>
<text x="311.25" y="433.2" font-size="5.7" text-anchor="end" stroke="#000" stroke-width="0.16" fill="#000">Collagen (µg/mL):</text>
<text x="322.2" y="433.2" font-size="5.7" text-anchor="middle" stroke="#000" stroke-width="0.16" fill="#000">0</text>
<text x="338.8" y="433.2" font-size="5.7" text-anchor="middle" stroke="#000" stroke-width="0.16" fill="#000">25</text>
<text x="355" y="433.2" font-size="5.7" text-anchor="middle" stroke="#000" stroke-width="0.16" fill="#000">50</text>
<text x="369.5" y="433.2" font-size="5.7" text-anchor="middle" stroke="#000" stroke-width="0.16" fill="#000">100</text>
<text x="385.7" y="433.2" font-size="5.7" text-anchor="middle" stroke="#000" stroke-width="0.16" fill="#000">0</text>
<text x="402" y="433.2" font-size="5.7" text-anchor="middle" stroke="#000" stroke-width="0.16" fill="#000">25</text>
<text x="417.5" y="433.2" font-size="5.7" text-anchor="middle" stroke="#000" stroke-width="0.16" fill="#000">50</text>
<text x="433.5" y="433.2" font-size="5.7" text-anchor="middle" stroke="#000" stroke-width="0.16" fill="#000">100</text>
<g filter="url(#soft)">
<rect x="314.5" y="437" width="128" height="11.6" fill="#e9e9e9"/>
<rect x="314.5" y="448.7" width="128" height="12.3" fill="url(#gF)"/>
</g>
<rect x="316.00" y="443.40" width="12" height="2.2" rx="1.1" fill="#000" opacity="0.1" filter="url(#b0)"/>
<rect x="332.10" y="443.10" width="12.6" height="2.4" rx="1.2" fill="#000" opacity="0.42" filter="url(#b0)"/>
<rect x="348.50" y="443.00" width="12.4" height="2.6" rx="1.3" fill="#000" opacity="0.55" filter="url(#b0)"/>
<rect x="364.20" y="441.60" width="13" height="4" rx="1.5" fill="#000" opacity="0.95" filter="url(#b1)"/>
<rect x="364.70" y="442.60" width="12" height="2.4" rx="1.2" fill="#000" opacity="0.9" filter="url(#b0)"/>
<rect x="380.80" y="443.40" width="11" height="2.2" rx="1.1" fill="#000" opacity="0.1" filter="url(#b0)"/>
<rect x="396.10" y="441.80" width="12.2" height="3.8" rx="1.5" fill="#000" opacity="0.85" filter="url(#b1)"/>
<rect x="411.70" y="441.60" width="12.6" height="4.8" rx="1.5" fill="#000" opacity="0.75" filter="url(#b1)"/>
<rect x="427.70" y="440.70" width="13.6" height="5" rx="1.5" fill="#000" opacity="1" filter="url(#b1)"/>
<rect x="428.25" y="441.70" width="12.5" height="3" rx="1.5" fill="#000" opacity="1" filter="url(#b0)"/>
<rect x="315.50" y="456.65" width="13" height="2.3" rx="1.15" fill="#000" opacity="0.95" filter="url(#b0)"/>
<rect x="331.90" y="456.65" width="13" height="2.3" rx="1.15" fill="#000" opacity="0.95" filter="url(#b0)"/>
<rect x="348.20" y="456.65" width="13" height="2.3" rx="1.15" fill="#000" opacity="0.95" filter="url(#b0)"/>
<rect x="364.20" y="456.65" width="13" height="2.3" rx="1.15" fill="#000" opacity="0.95" filter="url(#b0)"/>
<rect x="379.80" y="456.65" width="13" height="2.3" rx="1.15" fill="#000" opacity="0.95" filter="url(#b0)"/>
<rect x="395.70" y="456.65" width="13" height="2.3" rx="1.15" fill="#000" opacity="0.95" filter="url(#b0)"/>
<rect x="411.50" y="456.65" width="13" height="2.3" rx="1.15" fill="#000" opacity="0.95" filter="url(#b0)"/>
<rect x="428.00" y="456.65" width="13" height="2.3" rx="1.15" fill="#000" opacity="0.95" filter="url(#b0)"/>
<line x1="446.5" y1="443" x2="462.5" y2="443" stroke="#000" stroke-width="1.05"/>
<path d="M444.1 443 L448.9 441.2 L448.9 444.8 Z" fill="#000"/>
<text x="466.25" y="445.052" font-size="6.1" text-anchor="start" stroke="#000" stroke-width="0.16" fill="#000">pY 519/20 Syk</text>
<line x1="446.5" y1="457.5" x2="462.5" y2="457.5" stroke="#000" stroke-width="1.05"/>
<path d="M444.1 457.5 L448.9 455.7 L448.9 459.3 Z" fill="#000"/>
<text x="466.25" y="459.552" font-size="6.1" text-anchor="start" stroke="#000" stroke-width="0.16" fill="#000">tSyk</text>
</g>
<g id="Aii">
<text x="0.7" y="76.25" font-size="14" font-weight="bold" fill="#000" stroke="#000" stroke-width="0.25">A<tspan font-size="12">ii</tspan></text>
<line x1="41.4" y1="68" x2="41.4" y2="163.39999999999998" stroke="#000" stroke-width="1.4"/>
<line x1="40.699999999999996" y1="162.7" x2="183.75" y2="162.7" stroke="#000" stroke-width="1.4"/>
<line x1="37.3" y1="162.7" x2="41.4" y2="162.7" stroke="#000" stroke-width="1.2"/>
<text x="37.0" y="165.148" font-size="6.8" text-anchor="end" font-weight="bold" stroke="#000" stroke-width="0.22" fill="#000">0</text>
<line x1="37.3" y1="143.85999999999999" x2="41.4" y2="143.85999999999999" stroke="#000" stroke-width="1.2"/>
<text x="37.0" y="146.308" font-size="6.8" text-anchor="end" font-weight="bold" stroke="#000" stroke-width="0.22" fill="#000">2</text>
<line x1="37.3" y1="125.01999999999998" x2="41.4" y2="125.01999999999998" stroke="#000" stroke-width="1.2"/>
<text x="37.0" y="127.46799999999998" font-size="6.8" text-anchor="end" font-weight="bold" stroke="#000" stroke-width="0.22" fill="#000">4</text>
<line x1="37.3" y1="106.17999999999999" x2="41.4" y2="106.17999999999999" stroke="#000" stroke-width="1.2"/>
<text x="37.0" y="108.62799999999999" font-size="6.8" text-anchor="end" font-weight="bold" stroke="#000" stroke-width="0.22" fill="#000">6</text>
<line x1="37.3" y1="87.33999999999999" x2="41.4" y2="87.33999999999999" stroke="#000" stroke-width="1.2"/>
<text x="37.0" y="89.78799999999998" font-size="6.8" text-anchor="end" font-weight="bold" stroke="#000" stroke-width="0.22" fill="#000">8</text>
<line x1="37.3" y1="68.49999999999999" x2="41.4" y2="68.49999999999999" stroke="#000" stroke-width="1.2"/>
<text x="37.0" y="70.94799999999998" font-size="6.8" text-anchor="end" font-weight="bold" stroke="#000" stroke-width="0.22" fill="#000">10</text>
<line x1="41.4" y1="162.7" x2="41.4" y2="166.7" stroke="#000" stroke-width="1.2"/>
<text x="41.4" y="173.448" font-size="6.8" text-anchor="middle" font-weight="bold" stroke="#000" stroke-width="0.22" fill="#000">0</text>
<line x1="96.4" y1="162.7" x2="96.4" y2="166.7" stroke="#000" stroke-width="1.2"/>
<text x="96.4" y="173.448" font-size="6.8" text-anchor="middle" font-weight="bold" stroke="#000" stroke-width="0.22" fill="#000">100</text>
<line x1="151.4" y1="162.7" x2="151.4" y2="166.7" stroke="#000" stroke-width="1.2"/>
<text x="151.4" y="173.448" font-size="6.8" text-anchor="middle" font-weight="bold" stroke="#000" stroke-width="0.22" fill="#000">200</text>
<text x="113" y="185" font-size="7.85" text-anchor="middle" font-weight="bold" stroke="#000" stroke-width="0.22" fill="#000">Time (s)</text>
<text x="24.7" y="115.2" font-size="7.55" text-anchor="middle" font-weight="bold" stroke="#000" stroke-width="0.22" fill="#000" transform="rotate(-90 24.7 115.2)">Ratio pSyk:tErk</text>
<line x1="57.9" y1="125.37795999999999" x2="57.9" y2="96.40203999999999" stroke="#000" stroke-width="1.0"/>
<line x1="55.199999999999996" y1="125.37795999999999" x2="60.6" y2="125.37795999999999" stroke="#000" stroke-width="1.0"/>
<line x1="55.199999999999996" y1="96.40203999999999" x2="60.6" y2="96.40203999999999" stroke="#000" stroke-width="1.0"/>
<line x1="74.4" y1="132.02848" x2="74.4" y2="122.52369999999999" stroke="#000" stroke-width="1.0"/>
<line x1="71.7" y1="132.02848" x2="77.10000000000001" y2="132.02848" stroke="#000" stroke-width="1.0"/>
<line x1="71.7" y1="122.52369999999999" x2="77.10000000000001" y2="122.52369999999999" stroke="#000" stroke-width="1.0"/>
<line x1="57.9" y1="103.52355999999999" x2="57.9" y2="69.79995999999998" stroke="#000" stroke-width="1.0"/>
<line x1="55.199999999999996" y1="103.52355999999999" x2="60.6" y2="103.52355999999999" stroke="#000" stroke-width="1.0"/>
<line x1="55.199999999999996" y1="69.79995999999998" x2="60.6" y2="69.79995999999998" stroke="#000" stroke-width="1.0"/>
<line x1="107.4" y1="102.10113999999999" x2="107.4" y2="79.77573999999998" stroke="#000" stroke-width="1.0"/>
<line x1="104.7" y1="102.10113999999999" x2="110.10000000000001" y2="102.10113999999999" stroke="#000" stroke-width="1.0"/>
<line x1="104.7" y1="79.77573999999998" x2="110.10000000000001" y2="79.77573999999998" stroke="#000" stroke-width="1.0"/>
<line x1="173.4" y1="106.84881999999999" x2="173.4" y2="90.22251999999999" stroke="#000" stroke-width="1.0"/>
<line x1="170.70000000000002" y1="106.84881999999999" x2="176.1" y2="106.84881999999999" stroke="#000" stroke-width="1.0"/>
<line x1="170.70000000000002" y1="90.22251999999999" x2="176.1" y2="90.22251999999999" stroke="#000" stroke-width="1.0"/>
<circle cx="41.40" cy="152.45" r="2.9" fill="#000"/>
<circle cx="57.90" cy="110.17" r="2.9" fill="#000"/>
<circle cx="74.40" cy="127.56" r="2.9" fill="#000"/>
<circle cx="107.40" cy="138.20" r="2.9" fill="#000"/>
<circle cx="173.40" cy="138.68" r="2.9" fill="#000"/>
<rect x="38.70" y="153.36" width="5.4" height="5.4" fill="#fff" stroke="#000" stroke-width="1.1"/>
<rect x="55.20" y="84.20" width="5.4" height="5.4" fill="#fff" stroke="#000" stroke-width="1.1"/>
<rect x="71.70" y="82.77" width="5.4" height="5.4" fill="#fff" stroke="#000" stroke-width="1.1"/>
<rect x="104.70" y="88.29" width="5.4" height="5.4" fill="#fff" stroke="#000" stroke-width="1.1"/>
<rect x="170.70" y="96.26" width="5.4" height="5.4" fill="#fff" stroke="#000" stroke-width="1.1"/>
<path d="M41.5 153.3 C47 138.5 52.5 123.5 57.75 110 C58.7 107.6 60.4 108.2 61.6 110.4 C65 116.8 69 123 74.25 127.5 C80 132.5 86 139.6 95 140 C100 140.2 103 138.8 107 138 C115 136.4 123 135.4 131 135.4 C145 135.4 160 137 173.25 138.75" fill="none" stroke="#000" stroke-width="1.4"/>
<path d="M41.5 154.9 C47 132 52.5 109 57.75 86.6 C59.3 80.2 62.8 79.6 65.5 80.8 C68.5 82.2 71 84 74.25 85.3 C80 87.6 87 91.2 95 91.3 C99 91.3 103 91 107 90.75 C122 89.6 150 92.5 173.25 98.7" fill="none" stroke="#000" stroke-width="1.4" stroke-dasharray="4.8 2.8"/>
</g>
<g id="Dii">
<text x="249.2" y="76.9" font-size="14" font-weight="bold" fill="#000" stroke="#000" stroke-width="0.25">D<tspan font-size="12">ii</tspan></text>
<line x1="298.75" y1="65" x2="298.75" y2="162.89999999999998" stroke="#000" stroke-width="1.4"/>
<line x1="298.05" y1="162.2" x2="442" y2="162.2" stroke="#000" stroke-width="1.4"/>
<line x1="294.65" y1="162.2" x2="298.75" y2="162.2" stroke="#000" stroke-width="1.2"/>
<text x="294.35" y="164.648" font-size="6.8" text-anchor="end" font-weight="bold" stroke="#000" stroke-width="0.22" fill="#000">0</text>
<line x1="294.65" y1="140.54999999999998" x2="298.75" y2="140.54999999999998" stroke="#000" stroke-width="1.2"/>
<text x="294.35" y="142.998" font-size="6.8" text-anchor="end" font-weight="bold" stroke="#000" stroke-width="0.22" fill="#000">10</text>
<line x1="294.65" y1="118.89999999999999" x2="298.75" y2="118.89999999999999" stroke="#000" stroke-width="1.2"/>
<text x="294.35" y="121.34799999999998" font-size="6.8" text-anchor="end" font-weight="bold" stroke="#000" stroke-width="0.22" fill="#000">20</text>
<line x1="294.65" y1="97.24999999999999" x2="298.75" y2="97.24999999999999" stroke="#000" stroke-width="1.2"/>
<text x="294.35" y="99.69799999999998" font-size="6.8" text-anchor="end" font-weight="bold" stroke="#000" stroke-width="0.22" fill="#000">30</text>
<line x1="294.65" y1="75.6" x2="298.75" y2="75.6" stroke="#000" stroke-width="1.2"/>
<text x="294.35" y="78.04799999999999" font-size="6.8" text-anchor="end" font-weight="bold" stroke="#000" stroke-width="0.22" fill="#000">40</text>
<line x1="298.75" y1="162.2" x2="298.75" y2="166.2" stroke="#000" stroke-width="1.2"/>
<text x="298.75" y="172.948" font-size="6.8" text-anchor="middle" font-weight="bold" stroke="#000" stroke-width="0.22" fill="#000">0</text>
<line x1="333.75" y1="162.2" x2="333.75" y2="166.2" stroke="#000" stroke-width="1.2"/>
<text x="333.75" y="172.948" font-size="6.8" text-anchor="middle" font-weight="bold" stroke="#000" stroke-width="0.22" fill="#000">200</text>
<line x1="368.75" y1="162.2" x2="368.75" y2="166.2" stroke="#000" stroke-width="1.2"/>
<text x="368.75" y="172.948" font-size="6.8" text-anchor="middle" font-weight="bold" stroke="#000" stroke-width="0.22" fill="#000">400</text>
<line x1="403.75" y1="162.2" x2="403.75" y2="166.2" stroke="#000" stroke-width="1.2"/>
<text x="403.75" y="172.948" font-size="6.8" text-anchor="middle" font-weight="bold" stroke="#000" stroke-width="0.22" fill="#000">600</text>
<line x1="438.75" y1="162.2" x2="438.75" y2="166.2" stroke="#000" stroke-width="1.2"/>
<text x="438.75" y="172.948" font-size="6.8" text-anchor="middle" font-weight="bold" stroke="#000" stroke-width="0.22" fill="#000">800</text>
<text x="372" y="184.4" font-size="7.85" text-anchor="middle" font-weight="bold" stroke="#000" stroke-width="0.22" fill="#000">Dose Cvx (ng/mL)</text>
<text x="276" y="112.5" font-size="7.55" text-anchor="middle" font-weight="bold" stroke="#000" stroke-width="0.22" fill="#000" transform="rotate(-90 276 112.5)">Ratio pSyk:tSyk</text>
<line x1="307.5" y1="154.6225" x2="307.5" y2="134.05499999999998" stroke="#000" stroke-width="1.0"/>
<line x1="304.8" y1="154.6225" x2="310.2" y2="154.6225" stroke="#000" stroke-width="1.0"/>
<line x1="304.8" y1="134.05499999999998" x2="310.2" y2="134.05499999999998" stroke="#000" stroke-width="1.0"/>
<line x1="316.25" y1="149.643" x2="316.25" y2="131.89" stroke="#000" stroke-width="1.0"/>
<line x1="313.55" y1="149.643" x2="318.95" y2="149.643" stroke="#000" stroke-width="1.0"/>
<line x1="313.55" y1="131.89" x2="318.95" y2="131.89" stroke="#000" stroke-width="1.0"/>
<line x1="333.75" y1="142.0655" x2="333.75" y2="127.55999999999999" stroke="#000" stroke-width="1.0"/>
<line x1="331.05" y1="142.0655" x2="336.45" y2="142.0655" stroke="#000" stroke-width="1.0"/>
<line x1="331.05" y1="127.55999999999999" x2="336.45" y2="127.55999999999999" stroke="#000" stroke-width="1.0"/>
<line x1="368.75" y1="140.117" x2="368.75" y2="121.065" stroke="#000" stroke-width="1.0"/>
<line x1="366.05" y1="140.117" x2="371.45" y2="140.117" stroke="#000" stroke-width="1.0"/>
<line x1="366.05" y1="121.065" x2="371.45" y2="121.065" stroke="#000" stroke-width="1.0"/>
<line x1="438.75" y1="134.05499999999998" x2="438.75" y2="117.8175" stroke="#000" stroke-width="1.0"/>
<line x1="436.05" y1="134.05499999999998" x2="441.45" y2="134.05499999999998" stroke="#000" stroke-width="1.0"/>
<line x1="436.05" y1="117.8175" x2="441.45" y2="117.8175" stroke="#000" stroke-width="1.0"/>
<line x1="316.25" y1="142.71499999999997" x2="316.25" y2="108.07499999999999" stroke="#000" stroke-width="1.0"/>
<line x1="313.55" y1="142.71499999999997" x2="318.95" y2="142.71499999999997" stroke="#000" stroke-width="1.0"/>
<line x1="313.55" y1="108.07499999999999" x2="318.95" y2="108.07499999999999" stroke="#000" stroke-width="1.0"/>
<line x1="333.75" y1="127.55999999999999" x2="333.75" y2="109.15749999999998" stroke="#000" stroke-width="1.0"/>
<line x1="331.05" y1="127.55999999999999" x2="336.45" y2="127.55999999999999" stroke="#000" stroke-width="1.0"/>
<line x1="331.05" y1="109.15749999999998" x2="336.45" y2="109.15749999999998" stroke="#000" stroke-width="1.0"/>
<line x1="438.75" y1="98.982" x2="438.75" y2="73.868" stroke="#000" stroke-width="1.0"/>
<line x1="436.05" y1="98.982" x2="441.45" y2="98.982" stroke="#000" stroke-width="1.0"/>
<line x1="436.05" y1="73.868" x2="441.45" y2="73.868" stroke="#000" stroke-width="1.0"/>
<circle cx="298.75" cy="160.03" r="2.9" fill="#000"/>
<circle cx="307.50" cy="144.88" r="2.9" fill="#000"/>
<circle cx="316.25" cy="140.98" r="2.9" fill="#000"/>
<circle cx="333.75" cy="134.92" r="2.9" fill="#000"/>
<circle cx="368.75" cy="130.37" r="2.9" fill="#000"/>
<circle cx="438.75" cy="126.04" r="2.9" fill="#000"/>
<rect x="295.55" y="156.84" width="6.4" height="6.4" fill="#000"/>
<rect x="304.30" y="141.68" width="6.4" height="6.4" fill="#000"/>
<rect x="313.55" y="123.78" width="5.4" height="5.4" fill="#fff" stroke="#000" stroke-width="1.1"/>
<rect x="331.05" y="115.77" width="5.4" height="5.4" fill="#fff" stroke="#000" stroke-width="1.1"/>
<rect x="366.05" y="106.89" width="5.4" height="5.4" fill="#fff" stroke="#000" stroke-width="1.1"/>
<rect x="436.05" y="83.72" width="5.4" height="5.4" fill="#fff" stroke="#000" stroke-width="1.1"/>
<path d="M298.75 160.03 L298.79 159.95 L298.91 159.69 L299.10 159.27 L299.37 158.70 L299.72 157.99 L300.15 157.17 L300.66 156.24 L301.24 155.22 L301.90 154.15 L302.64 153.03 L303.46 151.88 L304.35 150.72 L305.32 149.56 L306.37 148.41 L307.50 147.29 L308.71 146.19 L309.99 145.12 L311.35 144.09 L312.79 143.10 L314.31 142.16 L315.90 141.26 L317.57 140.40 L319.32 139.58 L321.15 138.80 L323.06 138.07 L325.04 137.37 L327.10 136.72 L329.24 136.09 L331.46 135.51 L333.75 134.95 L336.12 134.43 L338.57 133.93 L341.10 133.47 L343.71 133.02 L346.39 132.61 L349.15 132.21 L351.99 131.84 L354.91 131.48 L357.90 131.15 L360.97 130.83 L364.12 130.53 L367.35 130.25 L370.66 129.98 L374.04 129.72 L377.50 129.48 L381.04 129.25 L384.66 129.03 L388.35 128.82 L392.12 128.62 L395.97 128.43 L399.90 128.25 L403.91 128.08 L407.99 127.91 L412.15 127.76 L416.39 127.61 L420.71 127.46 L425.10 127.33 L429.57 127.20 L434.12 127.07 L438.75 126.95" fill="none" stroke="#000" stroke-width="1.4"/>
<path d="M298.75 160.03 L298.79 159.94 L298.91 159.65 L299.10 159.17 L299.37 158.51 L299.72 157.67 L300.15 156.67 L300.66 155.52 L301.24 154.23 L301.90 152.81 L302.64 151.29 L303.46 149.67 L304.35 147.97 L305.32 146.21 L306.37 144.39 L307.50 142.54 L308.71 140.67 L309.99 138.78 L311.35 136.88 L312.79 135.00 L314.31 133.12 L315.90 131.27 L317.57 129.45 L319.32 127.66 L321.15 125.90 L323.06 124.19 L325.04 122.52 L327.10 120.89 L329.24 119.31 L331.46 117.78 L333.75 116.30 L336.12 114.87 L338.57 113.48 L341.10 112.15 L343.71 110.86 L346.39 109.61 L349.15 108.42 L351.99 107.26 L354.91 106.15 L357.90 105.08 L360.97 104.06 L364.12 103.07 L367.35 102.12 L370.66 101.20 L374.04 100.33 L377.50 99.48 L381.04 98.67 L384.66 97.89 L388.35 97.14 L392.12 96.42 L395.97 95.72 L399.90 95.05 L403.91 94.41 L407.99 93.79 L412.15 93.20 L416.39 92.62 L420.71 92.07 L425.10 91.54 L429.57 91.03 L434.12 90.54 L438.75 90.06" fill="none" stroke="#000" stroke-width="1.4" stroke-dasharray="4.8 2.8"/>
</g>
<g id="Bii">
<text x="0.5" y="282.7" font-size="14" font-weight="bold" fill="#000" stroke="#000" stroke-width="0.25">B<tspan font-size="12">ii</tspan></text>
<line x1="41.8" y1="275.2" x2="41.8" y2="371.95" stroke="#000" stroke-width="1.4"/>
<line x1="41.099999999999994" y1="371.25" x2="185.75" y2="371.25" stroke="#000" stroke-width="1.4"/>
<line x1="37.699999999999996" y1="371.25" x2="41.8" y2="371.25" stroke="#000" stroke-width="1.2"/>
<text x="37.4" y="373.698" font-size="6.8" text-anchor="end" font-weight="bold" stroke="#000" stroke-width="0.22" fill="#000">0</text>
<line x1="37.699999999999996" y1="339.35" x2="41.8" y2="339.35" stroke="#000" stroke-width="1.2"/>
<text x="37.4" y="341.798" font-size="6.8" text-anchor="end" font-weight="bold" stroke="#000" stroke-width="0.22" fill="#000">5</text>
<line x1="37.699999999999996" y1="307.45" x2="41.8" y2="307.45" stroke="#000" stroke-width="1.2"/>
<text x="37.4" y="309.89799999999997" font-size="6.8" text-anchor="end" font-weight="bold" stroke="#000" stroke-width="0.22" fill="#000">10</text>
<line x1="37.699999999999996" y1="275.55" x2="41.8" y2="275.55" stroke="#000" stroke-width="1.2"/>
<text x="37.4" y="277.998" font-size="6.8" text-anchor="end" font-weight="bold" stroke="#000" stroke-width="0.22" fill="#000">15</text>
<line x1="41.8" y1="371.25" x2="41.8" y2="375.25" stroke="#000" stroke-width="1.2"/>
<text x="41.8" y="381.998" font-size="6.8" text-anchor="middle" font-weight="bold" stroke="#000" stroke-width="0.22" fill="#000">0</text>
<line x1="97.1" y1="371.25" x2="97.1" y2="375.25" stroke="#000" stroke-width="1.2"/>
<text x="97.1" y="381.998" font-size="6.8" text-anchor="middle" font-weight="bold" stroke="#000" stroke-width="0.22" fill="#000">100</text>
<line x1="152.4" y1="371.25" x2="152.4" y2="375.25" stroke="#000" stroke-width="1.2"/>
<text x="152.4" y="381.998" font-size="6.8" text-anchor="middle" font-weight="bold" stroke="#000" stroke-width="0.22" fill="#000">200</text>
<text x="114" y="393.8" font-size="7.85" text-anchor="middle" font-weight="bold" stroke="#000" stroke-width="0.22" fill="#000">Time (s)</text>
<text x="24.7" y="322.5" font-size="7.55" text-anchor="middle" font-weight="bold" stroke="#000" stroke-width="0.22" fill="#000" transform="rotate(-90 24.7 322.5)">Ratio pSyk:tSyk</text>
<line x1="74.97999999999999" y1="329.142" x2="74.97999999999999" y2="314.468" stroke="#000" stroke-width="1.0"/>
<line x1="72.27999999999999" y1="329.142" x2="77.67999999999999" y2="329.142" stroke="#000" stroke-width="1.0"/>
<line x1="72.27999999999999" y1="314.468" x2="77.67999999999999" y2="314.468" stroke="#000" stroke-width="1.0"/>
<line x1="174.51999999999998" y1="308.726" x2="174.51999999999998" y2="281.93" stroke="#000" stroke-width="1.0"/>
<line x1="171.82" y1="308.726" x2="177.21999999999997" y2="308.726" stroke="#000" stroke-width="1.0"/>
<line x1="171.82" y1="281.93" x2="177.21999999999997" y2="281.93" stroke="#000" stroke-width="1.0"/>
<circle cx="41.80" cy="364.23" r="2.9" fill="#000"/>
<circle cx="58.39" cy="360.72" r="2.9" fill="#000"/>
<circle cx="74.98" cy="362.00" r="2.9" fill="#000"/>
<circle cx="108.16" cy="356.26" r="2.9" fill="#000"/>
<circle cx="174.52" cy="358.49" r="2.9" fill="#000"/>
<rect x="39.10" y="361.53" width="5.4" height="5.4" fill="#fff" stroke="#000" stroke-width="1.1"/>
<rect x="55.69" y="344.94" width="5.4" height="5.4" fill="#fff" stroke="#000" stroke-width="1.1"/>
<rect x="72.28" y="319.42" width="5.4" height="5.4" fill="#fff" stroke="#000" stroke-width="1.1"/>
<rect x="105.46" y="301.56" width="5.4" height="5.4" fill="#fff" stroke="#000" stroke-width="1.1"/>
<rect x="171.82" y="292.63" width="5.4" height="5.4" fill="#fff" stroke="#000" stroke-width="1.1"/>
<path d="M41.5 364.2 C47 362 52 360.6 58 360.7 C64 360.8 68 362.3 74.75 362 C86 361.6 96 358.6 107.9 356.3 C115 354.9 121 354.2 129 354.2 C145 354.2 160 356 174.5 358.5" fill="none" stroke="#000" stroke-width="1.4"/>
<path d="M41.5 364.2 C47 360 52.5 355 58 347.6 C64 339.5 68 330 74.75 322 C82 313 95 306 107.9 304.3 C125 302 150 298.5 174.5 295.3" fill="none" stroke="#000" stroke-width="1.4" stroke-dasharray="4.8 2.8"/>
</g>
<g id="Eii">
<text x="264" y="282.5" font-size="14" font-weight="bold" fill="#000" stroke="#000" stroke-width="0.25">E<tspan font-size="12">ii</tspan></text>
<line x1="300" y1="273" x2="300" y2="371.5" stroke="#000" stroke-width="1.4"/>
<line x1="299.3" y1="370.8" x2="448.75" y2="370.8" stroke="#000" stroke-width="1.4"/>
<line x1="295.9" y1="370.8" x2="300" y2="370.8" stroke="#000" stroke-width="1.2"/>
<text x="295.6" y="373.248" font-size="6.8" text-anchor="end" font-weight="bold" stroke="#000" stroke-width="0.22" fill="#000">0</text>
<line x1="295.9" y1="348.92" x2="300" y2="348.92" stroke="#000" stroke-width="1.2"/>
<text x="295.6" y="351.368" font-size="6.8" text-anchor="end" font-weight="bold" stroke="#000" stroke-width="0.22" fill="#000">10</text>
<line x1="295.9" y1="327.04" x2="300" y2="327.04" stroke="#000" stroke-width="1.2"/>
<text x="295.6" y="329.488" font-size="6.8" text-anchor="end" font-weight="bold" stroke="#000" stroke-width="0.22" fill="#000">20</text>
<line x1="295.9" y1="305.16" x2="300" y2="305.16" stroke="#000" stroke-width="1.2"/>
<text x="295.6" y="307.608" font-size="6.8" text-anchor="end" font-weight="bold" stroke="#000" stroke-width="0.22" fill="#000">30</text>
<line x1="295.9" y1="283.28" x2="300" y2="283.28" stroke="#000" stroke-width="1.2"/>
<text x="295.6" y="285.72799999999995" font-size="6.8" text-anchor="end" font-weight="bold" stroke="#000" stroke-width="0.22" fill="#000">40</text>
<line x1="300.0" y1="370.8" x2="300.0" y2="374.8" stroke="#000" stroke-width="1.2"/>
<text x="300.0" y="381.548" font-size="6.8" text-anchor="middle" font-weight="bold" stroke="#000" stroke-width="0.22" fill="#000">0</text>
<line x1="370.75" y1="370.8" x2="370.75" y2="374.8" stroke="#000" stroke-width="1.2"/>
<text x="370.75" y="381.548" font-size="6.8" text-anchor="middle" font-weight="bold" stroke="#000" stroke-width="0.22" fill="#000">5</text>
<line x1="441.5" y1="370.8" x2="441.5" y2="374.8" stroke="#000" stroke-width="1.2"/>
<text x="441.5" y="381.548" font-size="6.8" text-anchor="middle" font-weight="bold" stroke="#000" stroke-width="0.22" fill="#000">10</text>
<text x="376.3" y="393.8" font-size="7.85" text-anchor="middle" font-weight="bold" stroke="#000" stroke-width="0.22" fill="#000">Dose of CRP (ug/mL)</text>
<text x="276.2" y="321.5" font-size="7.55" text-anchor="middle" font-weight="bold" stroke="#000" stroke-width="0.22" fill="#000" transform="rotate(-90 276.2 321.5)">Ratio pSyk:tSyk</text>
<line x1="307.075" y1="357.672" x2="307.075" y2="335.79200000000003" stroke="#000" stroke-width="1.0"/>
<line x1="304.375" y1="357.672" x2="309.775" y2="357.672" stroke="#000" stroke-width="1.0"/>
<line x1="304.375" y1="335.79200000000003" x2="309.775" y2="335.79200000000003" stroke="#000" stroke-width="1.0"/>
<line x1="314.15" y1="354.39" x2="314.15" y2="313.91200000000003" stroke="#000" stroke-width="1.0"/>
<line x1="311.45" y1="354.39" x2="316.84999999999997" y2="354.39" stroke="#000" stroke-width="1.0"/>
<line x1="311.45" y1="313.91200000000003" x2="316.84999999999997" y2="313.91200000000003" stroke="#000" stroke-width="1.0"/>
<line x1="328.3" y1="343.8876" x2="328.3" y2="308.442" stroke="#000" stroke-width="1.0"/>
<line x1="325.6" y1="343.8876" x2="331.0" y2="343.8876" stroke="#000" stroke-width="1.0"/>
<line x1="325.6" y1="308.442" x2="331.0" y2="308.442" stroke="#000" stroke-width="1.0"/>
<line x1="370.75" y1="336.886" x2="370.75" y2="297.0644" stroke="#000" stroke-width="1.0"/>
<line x1="368.05" y1="336.886" x2="373.45" y2="336.886" stroke="#000" stroke-width="1.0"/>
<line x1="368.05" y1="297.0644" x2="373.45" y2="297.0644" stroke="#000" stroke-width="1.0"/>
<line x1="441.5" y1="334.2604" x2="441.5" y2="277.1536" stroke="#000" stroke-width="1.0"/>
<line x1="438.8" y1="334.2604" x2="444.2" y2="334.2604" stroke="#000" stroke-width="1.0"/>
<line x1="438.8" y1="277.1536" x2="444.2" y2="277.1536" stroke="#000" stroke-width="1.0"/>
<line x1="314.15" y1="365.9864" x2="314.15" y2="360.2976" stroke="#000" stroke-width="1.0"/>
<line x1="311.45" y1="365.9864" x2="316.84999999999997" y2="365.9864" stroke="#000" stroke-width="1.0"/>
<line x1="311.45" y1="360.2976" x2="316.84999999999997" y2="360.2976" stroke="#000" stroke-width="1.0"/>
<line x1="328.3" y1="364.236" x2="328.3" y2="358.1096" stroke="#000" stroke-width="1.0"/>
<line x1="325.6" y1="364.236" x2="331.0" y2="364.236" stroke="#000" stroke-width="1.0"/>
<line x1="325.6" y1="358.1096" x2="331.0" y2="358.1096" stroke="#000" stroke-width="1.0"/>
<line x1="441.5" y1="359.86" x2="441.5" y2="353.296" stroke="#000" stroke-width="1.0"/>
<line x1="438.8" y1="359.86" x2="444.2" y2="359.86" stroke="#000" stroke-width="1.0"/>
<line x1="438.8" y1="353.296" x2="444.2" y2="353.296" stroke="#000" stroke-width="1.0"/>
<circle cx="300.00" cy="368.61" r="2.9" fill="#000"/>
<circle cx="307.07" cy="365.99" r="2.9" fill="#000"/>
<circle cx="314.15" cy="363.58" r="2.9" fill="#000"/>
<circle cx="328.30" cy="361.39" r="2.9" fill="#000"/>
<circle cx="370.75" cy="358.98" r="2.9" fill="#000"/>
<circle cx="441.50" cy="356.58" r="2.9" fill="#000"/>
<rect x="297.30" y="361.54" width="5.4" height="5.4" fill="#fff" stroke="#000" stroke-width="1.1"/>
<rect x="304.38" y="344.47" width="5.4" height="5.4" fill="#fff" stroke="#000" stroke-width="1.1"/>
<rect x="311.45" y="332.00" width="5.4" height="5.4" fill="#fff" stroke="#000" stroke-width="1.1"/>
<rect x="325.60" y="323.68" width="5.4" height="5.4" fill="#fff" stroke="#000" stroke-width="1.1"/>
<rect x="368.05" y="314.28" width="5.4" height="5.4" fill="#fff" stroke="#000" stroke-width="1.1"/>
<rect x="438.80" y="303.12" width="5.4" height="5.4" fill="#fff" stroke="#000" stroke-width="1.1"/>
<path d="M300.00 368.61 L300.04 368.59 L300.16 368.53 L300.35 368.43 L300.63 368.29 L300.98 368.11 L301.42 367.91 L301.93 367.67 L302.52 367.40 L303.18 367.12 L303.93 366.81 L304.76 366.49 L305.66 366.16 L306.64 365.82 L307.70 365.47 L308.84 365.12 L310.06 364.77 L311.36 364.42 L312.74 364.08 L314.19 363.74 L315.72 363.41 L317.33 363.09 L319.02 362.77 L320.79 362.47 L322.64 362.17 L324.57 361.89 L326.57 361.61 L328.65 361.35 L330.82 361.09 L333.06 360.85 L335.38 360.61 L337.77 360.39 L340.25 360.17 L342.80 359.97 L345.44 359.77 L348.15 359.58 L350.94 359.40 L353.81 359.23 L356.76 359.06 L359.78 358.91 L362.89 358.76 L366.07 358.61 L369.33 358.48 L372.68 358.34 L376.10 358.22 L379.59 358.10 L383.17 357.98 L386.83 357.87 L390.56 357.77 L394.37 357.67 L398.26 357.57 L402.23 357.48 L406.28 357.39 L410.41 357.30 L414.62 357.22 L418.90 357.14 L423.26 357.07 L427.70 357.00 L432.22 356.93 L436.82 356.86 L441.50 356.80" fill="none" stroke="#000" stroke-width="1.4"/>
<path d="M300.00 366.42 L300.04 366.27 L300.16 365.82 L300.35 365.09 L300.63 364.09 L300.98 362.85 L301.42 361.40 L301.93 359.77 L302.52 358.00 L303.18 356.12 L303.93 354.17 L304.76 352.16 L305.66 350.14 L306.64 348.12 L307.70 346.11 L308.84 344.15 L310.06 342.24 L311.36 340.38 L312.74 338.59 L314.19 336.87 L315.72 335.23 L317.33 333.66 L319.02 332.17 L320.79 330.75 L322.64 329.40 L324.57 328.13 L326.57 326.92 L328.65 325.78 L330.82 324.70 L333.06 323.68 L335.38 322.72 L337.77 321.82 L340.25 320.96 L342.80 320.15 L345.44 319.38 L348.15 318.66 L350.94 317.98 L353.81 317.33 L356.76 316.72 L359.78 316.14 L362.89 315.59 L366.07 315.07 L369.33 314.58 L372.68 314.11 L376.10 313.67 L379.59 313.25 L383.17 312.85 L386.83 312.47 L390.56 312.11 L394.37 311.77 L398.26 311.44 L402.23 311.13 L406.28 310.83 L410.41 310.55 L414.62 310.28 L418.90 310.02 L423.26 309.77 L427.70 309.53 L432.22 309.31 L436.82 309.09 L441.50 308.89" fill="none" stroke="#000" stroke-width="1.4" stroke-dasharray="4.8 2.8"/>
</g>
<g id="G">
<text x="148.7" y="489.4" font-size="14" font-weight="bold" fill="#000" stroke="#000" stroke-width="0.25">G</text>
<line x1="177.6" y1="492.5" x2="177.6" y2="608.3" stroke="#000" stroke-width="1.6"/>
<line x1="176.79999999999998" y1="607.5" x2="350.6" y2="607.5" stroke="#000" stroke-width="1.6"/>
<line x1="173.5" y1="607.5" x2="177.6" y2="607.5" stroke="#000" stroke-width="1.2"/>
<text x="173.2" y="610.632" font-size="8.7" text-anchor="end" font-weight="bold" stroke="#000" stroke-width="0.22" fill="#000">0</text>
<line x1="173.5" y1="584.6" x2="177.6" y2="584.6" stroke="#000" stroke-width="1.2"/>
<text x="173.2" y="587.732" font-size="8.7" text-anchor="end" font-weight="bold" stroke="#000" stroke-width="0.22" fill="#000">1</text>
<line x1="173.5" y1="561.7" x2="177.6" y2="561.7" stroke="#000" stroke-width="1.2"/>
<text x="173.2" y="564.832" font-size="8.7" text-anchor="end" font-weight="bold" stroke="#000" stroke-width="0.22" fill="#000">2</text>
<line x1="173.5" y1="538.8" x2="177.6" y2="538.8" stroke="#000" stroke-width="1.2"/>
<text x="173.2" y="541.9319999999999" font-size="8.7" text-anchor="end" font-weight="bold" stroke="#000" stroke-width="0.22" fill="#000">3</text>
<line x1="173.5" y1="515.9" x2="177.6" y2="515.9" stroke="#000" stroke-width="1.2"/>
<text x="173.2" y="519.0319999999999" font-size="8.7" text-anchor="end" font-weight="bold" stroke="#000" stroke-width="0.22" fill="#000">4</text>
<line x1="173.5" y1="493.0" x2="177.6" y2="493.0" stroke="#000" stroke-width="1.2"/>
<text x="173.2" y="496.132" font-size="8.7" text-anchor="end" font-weight="bold" stroke="#000" stroke-width="0.22" fill="#000">5</text>
<line x1="177.6" y1="607.5" x2="177.6" y2="612.3" stroke="#000" stroke-width="1.2"/>
<text x="177.6" y="621.132" font-size="8.7" text-anchor="middle" font-weight="bold" stroke="#000" stroke-width="0.22" fill="#000">0</text>
<line x1="235.05" y1="607.5" x2="235.05" y2="612.3" stroke="#000" stroke-width="1.2"/>
<text x="235.05" y="621.132" font-size="8.7" text-anchor="middle" font-weight="bold" stroke="#000" stroke-width="0.22" fill="#000">5</text>
<line x1="292.5" y1="607.5" x2="292.5" y2="612.3" stroke="#000" stroke-width="1.2"/>
<text x="292.5" y="621.132" font-size="8.7" text-anchor="middle" font-weight="bold" stroke="#000" stroke-width="0.22" fill="#000">10</text>
<line x1="349.95" y1="607.5" x2="349.95" y2="612.3" stroke="#000" stroke-width="1.2"/>
<text x="349.95" y="621.132" font-size="8.7" text-anchor="middle" font-weight="bold" stroke="#000" stroke-width="0.22" fill="#000">15</text>
<text x="264.2" y="634.6" font-size="9" text-anchor="middle" font-weight="bold" stroke="#000" stroke-width="0.22" fill="#000">Time (m)</text>
<text x="156" y="549" font-size="9" text-anchor="middle" font-weight="bold" stroke="#000" stroke-width="0.22" fill="#000" transform="rotate(-90 156 549)">Ratio pTubulin:tTubulin</text>
<circle cx="177.60" cy="607.50" r="3.2" fill="#000"/>
<circle cx="235.05" cy="592.39" r="3.2" fill="#000"/>
<circle cx="292.50" cy="578.42" r="3.2" fill="#000"/>
<circle cx="349.95" cy="556.43" r="3.2" fill="#000"/>
<rect x="174.40" y="604.30" width="6.4" height="6.4" fill="#fff" stroke="#000" stroke-width="1.1"/>
<rect x="231.85" y="569.49" width="6.4" height="6.4" fill="#fff" stroke="#000" stroke-width="1.1"/>
<rect x="289.30" y="538.35" width="6.4" height="6.4" fill="#fff" stroke="#000" stroke-width="1.1"/>
<rect x="346.75" y="510.41" width="6.4" height="6.4" fill="#fff" stroke="#000" stroke-width="1.1"/>
<path d="M177.60 607.50 L349.95 558.72" fill="none" stroke="#000" stroke-width="1.6"/>
<path d="M177.60 607.50 L349.95 513.15" fill="none" stroke="#000" stroke-width="1.6" stroke-dasharray="5.6 3.2"/>
</g>
</g></svg></body></html>
